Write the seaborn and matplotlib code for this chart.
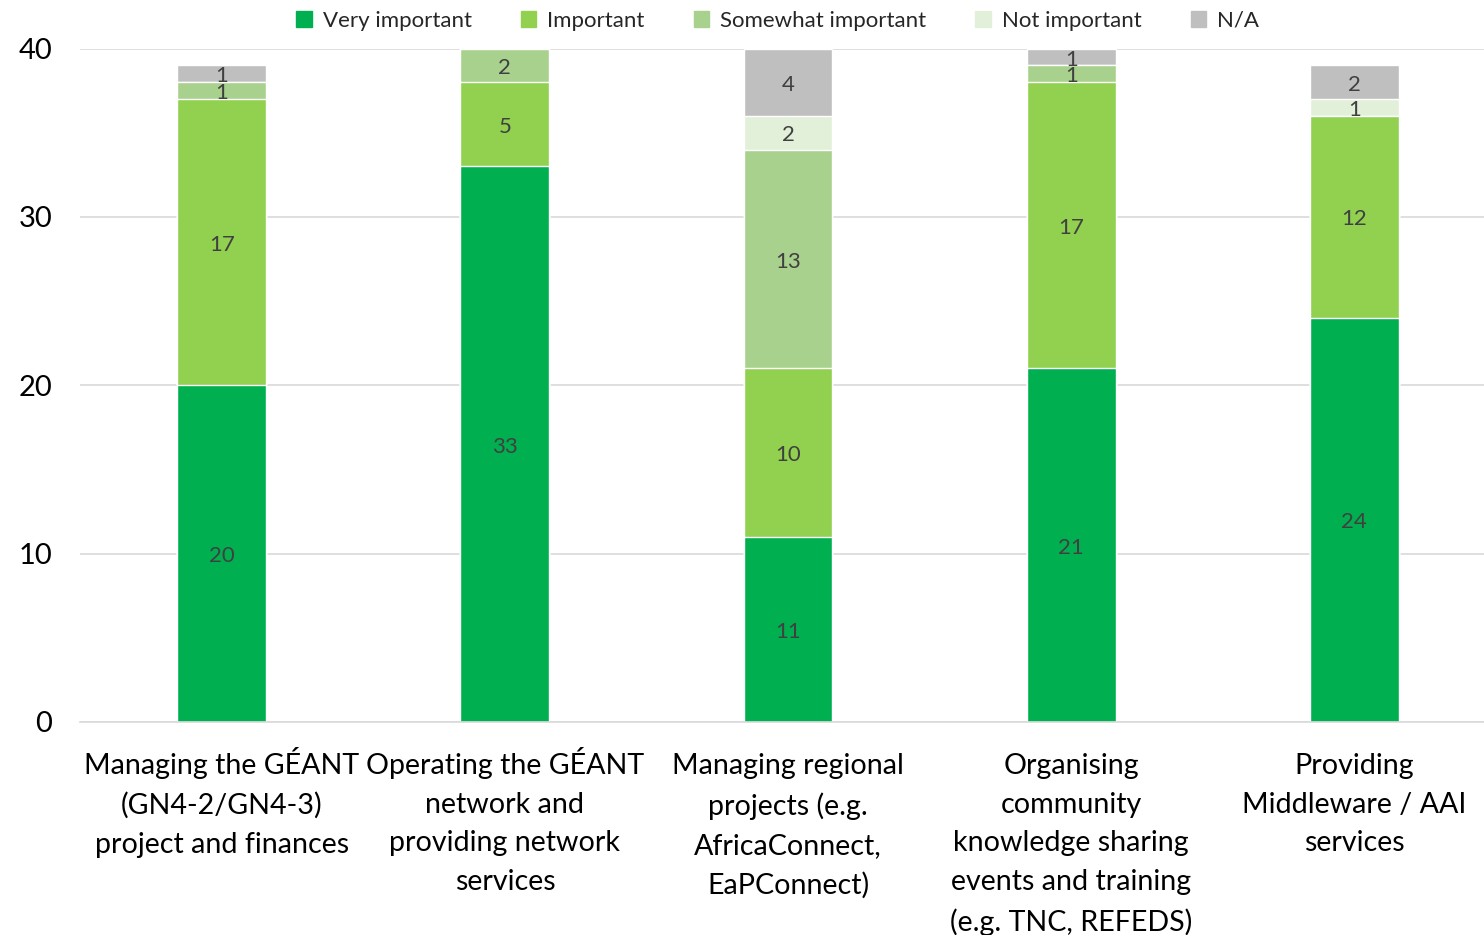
import numpy as np
import pandas as pd
import seaborn as sns
import matplotlib.pyplot as plt
from matplotlib.patches import Patch
from matplotlib.transforms import ScaledTranslation

sns.set_theme(style="white")
plt.rcParams["font.family"] = ["Lato", "DejaVu Sans"]

categories = [
    "Managing the GÉANT\n(GN4-2/GN4-3)\nproject and finances",
    "Operating the GÉANT\nnetwork and\nproviding network\nservices",
    "Managing regional\nprojects (e.g.\nAfricaConnect,\nEaPConnect)",
    "Organising\ncommunity\nknowledge sharing\nevents and training\n(e.g. TNC, REFEDS)",
    "Providing\nMiddleware / AAI\nservices",
]
series = ["Very important", "Important", "Somewhat important", "Not important", "N/A"]
very_important = [20, 33, 11, 21, 24]
important = [17, 5, 10, 17, 12]
somewhat_important = [1, 2, 13, 1, 0]
not_important = [0, 0, 2, 0, 1]
na = [1, 0, 4, 1, 2]
colors = ["#00B050", "#92D050", "#A9D18E", "#E2F0D9", "#BFBFBF"]

values = np.array([very_important, important, somewhat_important, not_important, na])
cum = values.cumsum(axis=0)

fig, ax = plt.subplots(figsize=(14.84, 9.35), dpi=100)
fig.subplots_adjust(left=0.054, right=1.008, top=0.948, bottom=0.228)

# draw cumulative totals from the top down so lower layers cover upper ones
for i in range(len(series) - 1, -1, -1):
    df = pd.DataFrame({"cat": categories, "val": cum[i]})
    sns.barplot(data=df, x="cat", y="val", color=colors[i], width=0.314,
                saturation=1, ax=ax, zorder=2)

# value labels
for i in range(len(series)):
    for j in range(len(categories)):
        v = values[i, j]
        if v == 0:
            continue
        mid = cum[i, j] - v / 2
        ax.text(j, mid - 0.15, str(v), ha="center", va="center", fontsize=16,
                color="#404040", zorder=3)

ax.set_ylim(0, 40)
ax.set_xlim(-0.5, 4.5)
ax.set_yticks([0, 10, 20, 30, 40])
ax.yaxis.grid(True, color="#D9D9D9", linewidth=1.2, zorder=0)
ax.set_axisbelow(True)
for s in ["top", "right", "left"]:
    ax.spines[s].set_visible(False)
ax.spines["bottom"].set_color("#D9D9D9")
ax.spines["bottom"].set_linewidth(1.2)
ax.set_xlabel("")
ax.set_ylabel("")
ax.tick_params(axis="y", labelsize=21, colors="black", length=0, pad=20)
ax.tick_params(axis="x", labelsize=20.6, colors="black", length=0, pad=22.5)
ax.set_xticks(np.arange(-0.5, 5, 1), minor=True)
ax.tick_params(axis="x", which="minor", length=8, color="#D9D9D9", width=1.2)
for lbl in ax.get_xticklabels():
    lbl.set_multialignment("center")
    lbl.set_linespacing(1.6)
    # accented capitals push the first line down; lift those labels back up
    if "É" in lbl.get_text():
        lbl.set_transform(lbl.get_transform() + ScaledTranslation(0, 0.06, fig.dpi_scale_trans))

handles = [Patch(color=c, label=s) for c, s in zip(colors, series)]
fig.legend(handles=handles, loc="upper center", bbox_to_anchor=(0.524, 1.01),
           ncol=5, frameon=False, fontsize=16, handlelength=0.7, handleheight=0.7,
           columnspacing=2.2, handletextpad=0.5)

fig.savefig("out.png", dpi=100)
